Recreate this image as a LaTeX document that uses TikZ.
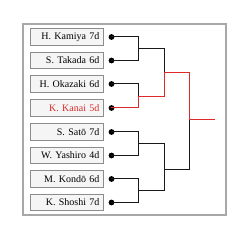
\documentclass[tikz,border=0pt]{standalone}
\usepackage{fontspec}
\setmainfont{Liberation Serif}
\usetikzlibrary{positioning}
\definecolor{winred}{HTML}{DD2A2A}
\definecolor{framegray}{HTML}{A8A8A8}
\definecolor{boxgray}{HTML}{8C8C8C}
\tikzset{
  player box/.style={draw=boxgray, fill=black!4, line width=0.8pt,
    minimum height=16.7pt, text width=65pt, inner sep=4pt, align=right,
    font=\fontsize{10pt}{11pt}\selectfont, anchor=west},
  seed dot/.style={circle, fill=black, inner sep=0pt, minimum size=5.8pt},
  bracket/.style={line width=1pt, black!90},
  winner/.style={line width=1pt, winred}
}
\newcommand{\playerBox}[4]{%
  \node[player box,text=#4] (p#1) at (30,#2) {#3};%
  \node[seed dot,right=4.6pt of p#1] (d#1) {};%
}

\begin{document}
\begin{tikzpicture}[x=1pt,y=-1pt]
  \useasboundingbox (0,0) rectangle (250,240);
  \draw[framegray, line width=1.3pt] (23,24) rectangle (226,215);

  \playerBox{1}{37}{H. Kamiya 7d}{black}
  \playerBox{2}{60.5}{S. Takada 6d}{black}
  \playerBox{3}{84}{H. Okazaki 6d}{black}
  \playerBox{4}{108}{K. Kanai 5d}{winred}
  \playerBox{5}{132}{S. Sat\=o 7d}{black}
  \playerBox{6}{155.5}{W. Yashiro 4d}{black}
  \playerBox{7}{179}{M. Kond\=o 6d}{black}
  \playerBox{8}{202.5}{K. Shoshi 7d}{black}

  % bracket joins
  \coordinate (r1a) at (139,48.8);
  \coordinate (r1b) at (139,96.3);
  \coordinate (r1c) at (139,143.2);
  \coordinate (r1d) at (139,190.7);
  \coordinate (r2a) at (164.3,72.3);
  \coordinate (r2b) at (164.3,169.7);
  \coordinate (r3) at (189.7,119.3);
  \coordinate (champ) at (214.7,119.3);

  \draw[bracket] (d1.center) -| (r1a);
  \draw[bracket] (d2.center) -| (r1a);
  \draw[bracket] (d3.center) -| (r1b);
  \draw[bracket] (d5.center) -| (r1c);
  \draw[bracket] (d6.center) -| (r1c);
  \draw[bracket] (d7.center) -| (r1d);
  \draw[bracket] (d8.center) -| (r1d);
  \draw[bracket] (r1a) -| (r2a);
  \draw[bracket] (r1c) -| (r2b);
  \draw[bracket] (r1d) -| (r2b);
  \draw[bracket] (r2b) -| (r3);

  % path of the winner
  \draw[winner] (d4.center) -| (r1b) -| (r2a) -| (r3) -- (champ);
\end{tikzpicture}
\end{document}
